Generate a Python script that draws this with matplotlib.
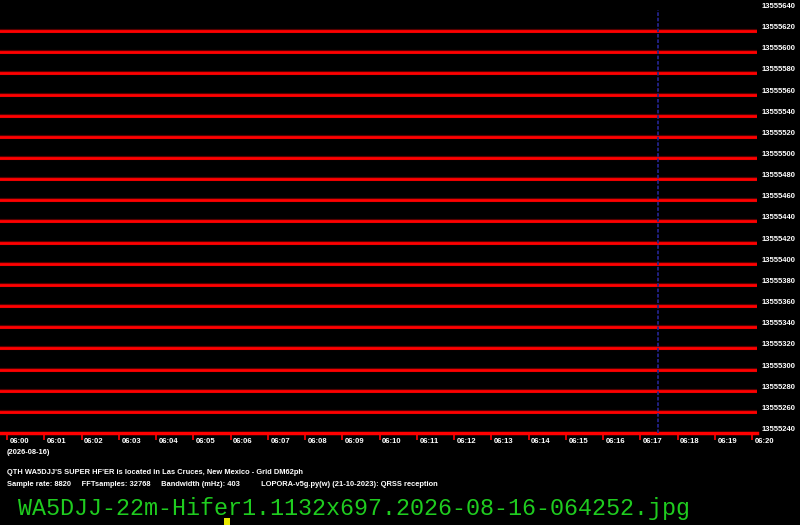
import numpy as np
import matplotlib
matplotlib.use('Agg')
import matplotlib.pyplot as plt
import matplotlib.transforms as mtransforms
from matplotlib.patches import Rectangle

# frequencies (Hz) of the labelled grid
freq_labels = [13555240, 13555260, 13555280, 13555300, 13555320, 13555340,
               13555360, 13555380, 13555400, 13555420, 13555440, 13555460,
               13555480, 13555500, 13555520, 13555540, 13555560, 13555580,
               13555600, 13555620, 13555640]
# red horizontal traces
trace_freqs = freq_labels[1:-1]
# minute ticks
minutes = list(range(0, 21))
minute_labels = ['06:%02d' % m for m in minutes]
marker_minute = 17.48

date_label = '(2026-08-16)'
info_line1 = "QTH WA5DJJ'S SUPER HF'ER is located in Las Cruces, New Mexico - Grid DM62ph"
info_line2 = ('Sample rate: 8820     FFTsamples: 32768     Bandwidth (mHz): 403'
              '          LOPORA-v5g.py(w) (21-10-2023): QRSS reception')
file_label = 'WA5DJJ-22m-Hifer1.1132x697.2026-08-16-064252.jpg'

W, H = 800, 525
fig = plt.figure(figsize=(W / 100, H / 100), dpi=100, facecolor='black')

# axes in pixel units: left 0, right 757, top 10, bottom 433
ax = fig.add_axes([0, (H - 433) / H, 757 / W, (433 - 10) / H])
ax.set_facecolor('black')
ax.set_xlim(-7 / 37.25, 750 / 37.25)
ax.set_ylim(freq_labels[0], freq_labels[-1])

for f in trace_freqs:
    ax.axhline(f, color='#ff0000', linewidth=2.0, zorder=2)
    ax.axhline(f, color='#8b0000', linewidth=3.0, zorder=1, alpha=0.6)

ax.axvline(marker_minute, color='#23238c', linewidth=1.3,
           linestyle=(0, (2, 1)), zorder=3)

for s in ['top', 'left', 'right']:
    ax.spines[s].set_visible(False)
ax.spines['bottom'].set_color('#ff0000')
ax.spines['bottom'].set_linewidth(2.5)

lab_font = dict(family='Liberation Sans', weight='bold', size=5.5)

ax.set_xticks(minutes)
ax.set_xticklabels(minute_labels, **lab_font)
ax.tick_params(axis='x', direction='out', length=5, width=1.2,
               color='#ff0000', labelcolor='white', pad=-1.2)
shift = mtransforms.ScaledTranslation(2.5 / 100, 0, fig.dpi_scale_trans)
for t in ax.get_xticklabels():
    t.set_horizontalalignment('left')
    t.set_transform(t.get_transform() + shift)

ax.yaxis.tick_right()
ax.set_yticks(freq_labels)
ax.set_yticklabels([str(f) for f in freq_labels], **lab_font)
ax.tick_params(axis='y', length=0, labelcolor='white', pad=3)
for t in ax.get_yticklabels():
    t.set_verticalalignment('bottom')

txt = dict(color='white', family='Liberation Sans', weight='bold', size=5.4)
fig.text(7 / W, 1 - 452 / H, date_label, va='center', **txt)
fig.text(7 / W, 1 - 473 / H, info_line1, va='center', **txt)
fig.text(7 / W, 1 - 484 / H, info_line2, va='center', **txt)

fig.text(18 / W, 1 - 509 / H, file_label, color='#1fcc1f',
         family='Liberation Mono', size=16.85, va='center')

fig.patches.append(Rectangle((224 / W, 0), 6 / W, 7 / H, transform=fig.transFigure,
                             facecolor='#e8e800', edgecolor='none'))

fig.savefig('out.png', dpi=100, facecolor='black')
